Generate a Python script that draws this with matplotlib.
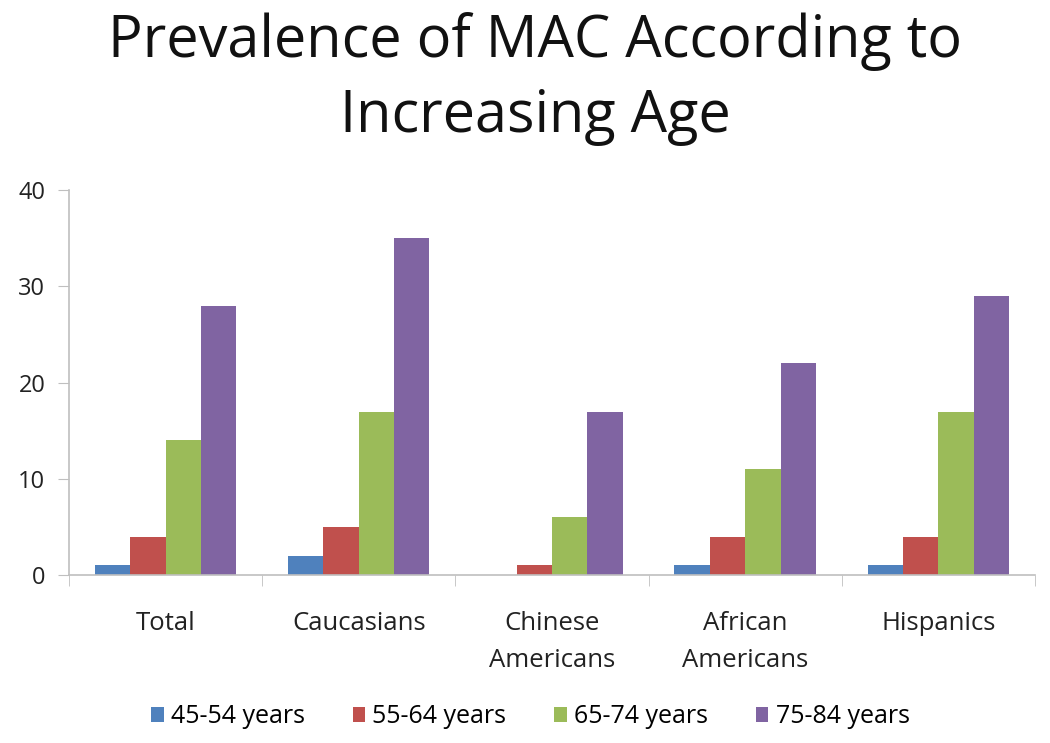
import matplotlib.pyplot as plt
import numpy as np

# data
groups = ['Total', 'Caucasians', 'Chinese\nAmericans', 'African\nAmericans', 'Hispanics']
ages = ['45-54 years', '55-64 years', '65-74 years', '75-84 years']
age45 = [1, 2, 0, 1, 1]
age55 = [4, 5, 1, 4, 4]
age65 = [14, 17, 6, 11, 17]
age75 = [28, 35, 17, 22, 29]
colors = ['#4F81BD', '#C0504D', '#9BBB59', '#8064A2']

plt.rcParams['font.family'] = ['Open Sans', 'DejaVu Sans']

fig = plt.figure(figsize=(10.5, 7.43), dpi=100)
ax = fig.add_axes([0.0657, 0.226, 0.92, 0.518])

x = np.arange(len(groups))
w = 0.183
series = [age45, age55, age65, age75]
for i, vals in enumerate(series):
    ax.bar(x + (i - 1.5) * w, vals, w, color=colors[i], label=ages[i])

ax.set_xlim(-0.5, len(groups) - 0.5)
ax.set_ylim(0, 40)
ax.set_yticks([0, 10, 20, 30, 40])
ax.set_xticks(x)
ax.set_xticklabels(groups, fontsize=18.5, color='#222222', linespacing=1.6)
ax.set_xticks(np.arange(-0.5, len(groups)), minor=True)
ax.tick_params(axis='x', which='major', length=0, pad=26)
ax.tick_params(axis='x', which='minor', length=8, color='#bfbfbf')
ax.tick_params(axis='y', length=8, color='#bfbfbf', labelsize=17, labelcolor='#222222', pad=9)

for s in ['top', 'right']:
    ax.spines[s].set_visible(False)
for s in ['left', 'bottom']:
    ax.spines[s].set_color('#bfbfbf')
    ax.spines[s].set_linewidth(1.2)

fig.text(0.51, 0.894, 'Prevalence of MAC According to\nIncreasing Age', ha='center', va='center',
         fontsize=41.5, linespacing=1.36, color='#111111')

fig.legend(loc='center', bbox_to_anchor=(0.505, 0.035), ncol=4, frameon=False, fontsize=18,
           handlelength=0.5, handleheight=0.5, handletextpad=0.3, columnspacing=1.9)

fig.savefig('out.png', dpi=100)
